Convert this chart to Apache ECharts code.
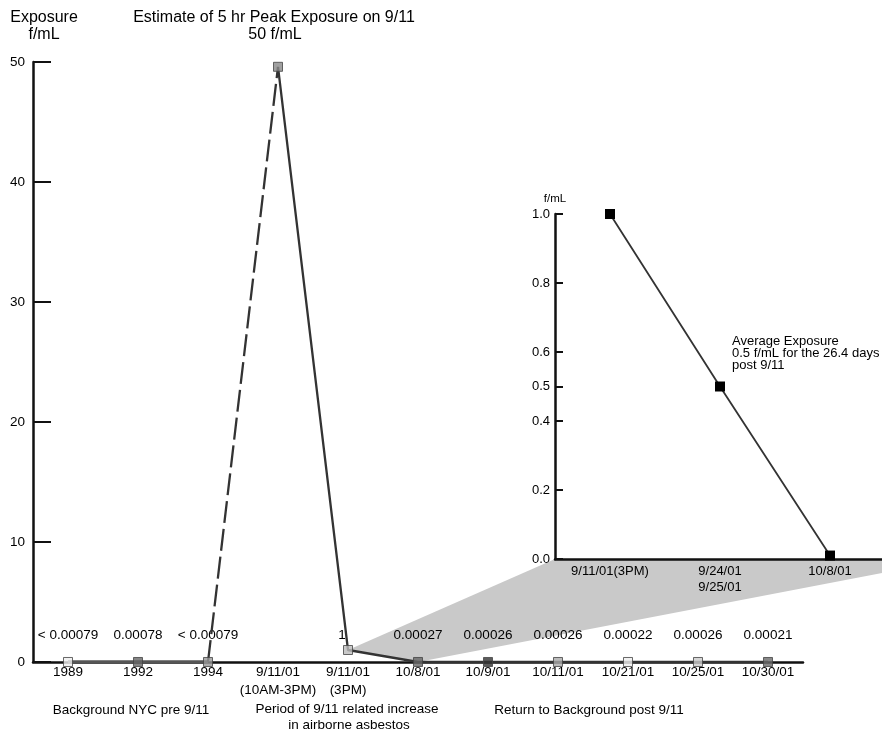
<!DOCTYPE html>
<html>
<head>
<meta charset="utf-8">
<script src="https://cdn.jsdelivr.net/npm/echarts@6/dist/echarts.min.js"></script>
<style>
html,body{margin:0;padding:0;background:#fff;}
#chart{width:882px;height:731px;}
</style>
</head>
<body>
<div id="chart"></div>
<script>
// ---- data ----
const categories = ['1989', '1992', '1994', '9/11/01\n(10AM-3PM)', '9/11/01\n(3PM)', '10/8/01', '10/9/01', '10/11/01', '10/21/01', '10/25/01', '10/30/01'];
const exposure = [0.00079, 0.00078, 0.00079, 49.6, 1, 0.00027, 0.00026, 0.00026, 0.00022, 0.00026, 0.00021];
const valueLabels = ['< 0.00079', '0.00078', '< 0.00079', '', '1', '0.00027', '0.00026', '0.00026', '0.00022', '0.00026', '0.00021'];
const insetCategories = ['9/11/01(3PM)', '9/24/01\n9/25/01', '10/8/01'];
const insetValues = [1.0, 0.5, 0.01];
const insetTicks = [0, 0.2, 0.4, 0.5, 0.6, 0.8, 1.0];

// ---- styles ----
const markerFills = ['#eeeeee', '#666666', '#999999', '#888888', '#bbbbbb', '#666666', '#333333', '#aaaaaa', '#eeeeee', '#cccccc', '#6a6a6a'];
const FONT = '"Liberation Sans", Arial, Helvetica, sans-serif';
const INK = '#000000';
const MAIN = {left: 33, top: 62, width: 770, height: 600};
const INSET = {left: 555, top: 214, width: 330, height: 345};

const preSeg = exposure.map((v, i) => (i <= 2 ? v : null));
const dashSeg = exposure.map((v, i) => (i === 2 || i === 3 ? v : null));
const postSeg = exposure.map((v, i) => (i >= 3 ? v : null));

const chart = echarts.init(document.getElementById('chart'), null, {renderer: 'canvas'});

const txt = (text, x, y, size, align) => ({
  type: 'text', x: x, y: y, z: 10,
  style: {text: text, font: size + 'px ' + FONT, fill: INK, align: align || 'center', verticalAlign: 'middle', lineHeight: size + 2}
});

const option = {
  backgroundColor: '#ffffff',
  animation: false,
  textStyle: {fontFamily: FONT, color: INK},
  grid: [
    Object.assign({outerBoundsMode: 'none', containLabel: false}, MAIN),
    Object.assign({outerBoundsMode: 'none', containLabel: false}, INSET)
  ],
  xAxis: [
    {
      type: 'category', gridIndex: 0, data: categories, boundaryGap: true,
      axisLine: {lineStyle: {color: '#111', width: 2.5}},
      axisTick: {inside: true, length: 15, interval: 0, lineStyle: {color: '#111', width: 2}},
      axisLabel: {interval: 0, margin: 1, fontSize: 13.5, lineHeight: 18, color: INK, fontFamily: FONT},
      splitLine: {show: false}
    },
    {
      type: 'category', gridIndex: 0, position: 'bottom', offset: -34,
      data: valueLabels.map((t, i) => (t === '1' ? {value: t, textStyle: {padding: [0, 12, 0, 0]}} : t)),
      axisLine: {show: false}, axisTick: {show: false}, splitLine: {show: false},
      axisLabel: {interval: 0, margin: 0, fontSize: 13.5, lineHeight: 15, color: INK, fontFamily: FONT}
    },
    {
      type: 'category', gridIndex: 1, data: insetCategories, boundaryGap: true,
      axisLine: {lineStyle: {color: '#111', width: 2.5}},
      axisTick: {inside: true, length: 8, interval: 0, lineStyle: {color: '#111', width: 2}},
      axisLabel: {interval: 0, margin: 4, fontSize: 13, lineHeight: 16, color: INK, fontFamily: FONT},
      splitLine: {show: false}
    }
  ],
  yAxis: [
    {
      type: 'value', gridIndex: 0, min: 0, max: 50, interval: 10,
      axisLine: {show: true, lineStyle: {color: '#111', width: 2.5}},
      axisTick: {show: true, inside: true, length: 18, lineStyle: {color: '#111', width: 2}},
      axisLabel: {margin: 8, fontSize: 13.5, color: INK, fontFamily: FONT},
      splitLine: {show: false}
    },
    {
      type: 'value', gridIndex: 1, min: 0, max: 1, interval: 0.1,
      name: 'f/mL', nameLocation: 'end', nameGap: 9,
      nameTextStyle: {fontSize: 11.5, color: INK, fontFamily: FONT, align: 'center'},
      axisLine: {show: true, lineStyle: {color: '#111', width: 2.5}},
      axisTick: {show: true, inside: true, length: 8, customValues: insetTicks, lineStyle: {color: '#111', width: 2}},
      axisLabel: {margin: 5, fontSize: 13, color: INK, fontFamily: FONT, customValues: insetTicks,
        formatter: v => Number(v).toFixed(1)},
      splitLine: {show: false}
    }
  ],
  series: [
    {
      type: 'line', xAxisIndex: 0, yAxisIndex: 0, data: preSeg, symbol: 'none', z: 3,
      lineStyle: {color: '#555', width: 3.5}
    },
    {
      type: 'line', xAxisIndex: 0, yAxisIndex: 0, data: dashSeg, symbol: 'none', z: 3,
      lineStyle: {color: '#333', width: 2.3, type: [22, 6]}
    },
    {
      type: 'line', xAxisIndex: 0, yAxisIndex: 0, data: postSeg, symbol: 'none', z: 3,
      lineStyle: {color: '#333', width: 2.3}
    },
    {
      type: 'scatter', xAxisIndex: 0, yAxisIndex: 0, symbol: 'rect', symbolSize: 9, z: 5,
      data: exposure.map((v, i) => ({value: [i, v], itemStyle: {color: markerFills[i], borderColor: '#444', borderWidth: 1}}))
    },
    {
      type: 'line', xAxisIndex: 2, yAxisIndex: 1, data: insetValues, z: 5,
      symbol: 'rect', symbolSize: 10, showAllSymbol: true,
      itemStyle: {color: '#000'},
      lineStyle: {color: '#333', width: 1.8}
    }
  ]
};
chart.setOption(option);

// wedge connecting the 9/11 (3PM) – 10/8/01 segment to the inset
const p1 = chart.convertToPixel({xAxisIndex: 0, yAxisIndex: 0}, [4, exposure[4]]);
const p2 = chart.convertToPixel({xAxisIndex: 0, yAxisIndex: 0}, [5, exposure[5]]);
const insetBottom = INSET.top + INSET.height;
const W = chart.getWidth();

chart.setOption({
  graphic: {
    elements: [
      {
        type: 'polygon', z: -1, silent: true,
        shape: {points: [p1, [INSET.left, insetBottom], [W, insetBottom], [W, insetBottom + 14], p2]},
        style: {fill: '#c9c9c9'}
      },
      txt('Exposure', 44, 18, 16),
      txt('f/mL', 44, 35, 16),
      txt('Estimate of 5 hr Peak Exposure on 9/11', 274, 18, 16),
      txt('50 f/mL', 275, 35, 16),
      txt('Background NYC pre 9/11', 131, 710, 13.5),
      txt('Period of 9/11 related increase', 347, 709, 13.5),
      txt('in airborne asbestos', 349, 725, 13.5),
      txt('Return to Background post 9/11', 589, 710, 13.5),
      txt('Average Exposure', 732, 341, 13, 'left'),
      txt('0.5 f/mL for the 26.4 days', 732, 353, 13, 'left'),
      txt('post 9/11', 732, 365, 13, 'left')
    ]
  }
});
</script>
</body>
</html>
